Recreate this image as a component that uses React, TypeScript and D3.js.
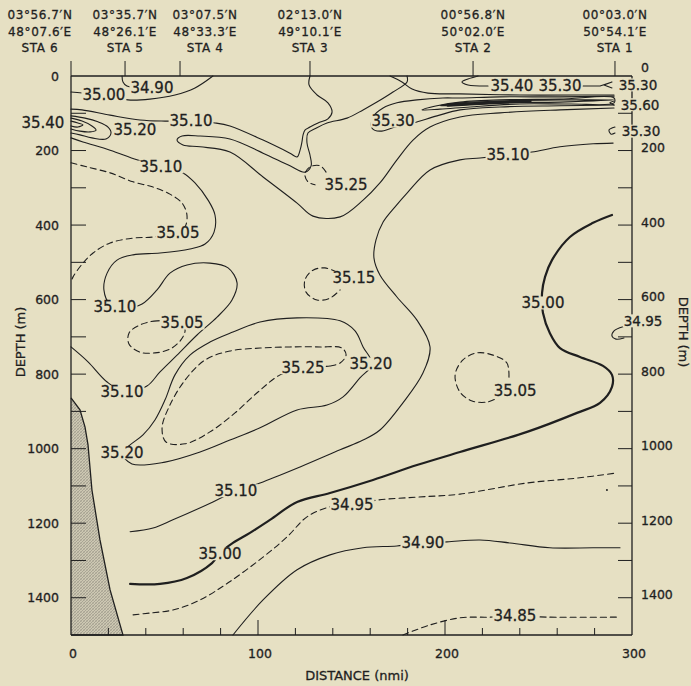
import React from "react";
import * as d3 from "d3";

type P = [number, number]; // [distance nmi, depth m]

// ---------- stations ----------
const stationDist = [0, 28.9, 58.3, 127.8, 215.0, 290.9];
const stationLabelDist = [-16.6, 28.9, 71.7, 127.8, 215.0, 290.9];
const stationLat = ["03°56.7′N", "03°35.7′N", "03°07.5′N", "02°13.0′N", "00°56.8′N", "00°03.0′N"];
const stationLon = ["48°07.6′E", "48°26.1′E", "48°33.3′E", "49°10.1′E", "50°02.0′E", "50°54.1′E"];
const stationName = ["STA 6", "STA 5", "STA 4", "STA 3", "STA 2", "STA 1"];

// ---------- ticks ----------
const depthTickMinor = [100, 200, 300, 400, 500, 600, 700, 800, 900, 1000, 1100, 1200, 1300, 1400];
const depthTickLabels = [0, 200, 400, 600, 800, 1000, 1200, 1400];
const distTickMinor = [20, 40, 60, 80, 120, 140, 160, 180, 220, 240, 260, 280];
const distTickMajor = [100, 200];
const distTickLabels = [0, 100, 200, 300];

// ---------- bottom topography ----------
const seamount: P[] = [[0, 864], [4.8, 896], [7.5, 942], [9.1, 990], [11.2, 1111], [15.5, 1245], [20.9, 1379], [27.8, 1500], [0, 1500]];

// ---------- isohalines ----------
const c3500Top: P[] = [[0, 43], [10.2, 48], [17.6, 54], [26.2, 59], [30.5, 64], [42.2, 62], [55.6, 51], [66.3, 32], [75.9, 0]];
const c3490Hook: P[] = [[27.3, 0], [27.8, 16], [29.9, 27], [33.2, 30]];
const c3510Upper: P[] = [[0, 89], [5.9, 91], [20.9, 105], [36.9, 118], [50.3, 121], [64.2, 121], [77.0, 126], [85.0, 134], [102.7, 172], [117.1, 207], [120.9, 217], [122.5, 199], [123.5, 177], [124.1, 158], [125.1, 145], [127.8, 137], [132.1, 126], [137.4, 115], [139.6, 97], [137.4, 72], [131.6, 51], [127.3, 24], [127.8, 0]];
const c3520Main: P[] = [[179.7, 0], [179.7, 16], [172.2, 43], [163.6, 70], [156.2, 91], [147.6, 113], [136.9, 126], [131.0, 140], [126.7, 153], [126.2, 180], [127.8, 212], [128.4, 241], [125.1, 258], [117.1, 241], [102.7, 207], [85.0, 169], [69.0, 161], [59.4, 161], [56.7, 172], [59.9, 185], [69.0, 190], [85.0, 204], [102.7, 271], [120.9, 341], [129.4, 376], [143.9, 378], [156.2, 333], [165.2, 287], [174.3, 225], [182.9, 172], [192.0, 137], [208.0, 110], [229.4, 99], [261.5, 91], [290.4, 86]];
const c3530Tongue: P[] = [[290.4, 54], [261.5, 56], [229.4, 56], [208.0, 59], [198.9, 59], [185.0, 64], [174.3, 72], [166.9, 86], [161.5, 110], [161.0, 140], [165.2, 148], [173.3, 137], [182.9, 126], [195.7, 107], [208.0, 91], [229.4, 83], [261.5, 80], [290.4, 78]];
const cTopLine: P[] = [[170.6, 0], [177.0, 16], [182.4, 35], [190.9, 46], [208.0, 48], [240.1, 51], [272.2, 51], [290.4, 51]];
const cLensOuter: P[] = [[187.7, 91], [195.7, 80], [208.0, 70], [229.4, 64], [261.5, 62], [290.4, 59], [290.4, 72], [266.8, 75], [240.1, 75], [213.4, 83], [197.3, 89]];
const cLensInner: P[] = [[197.3, 80], [208.0, 72], [229.4, 67], [261.5, 64], [290.4, 64], [261.5, 70], [229.4, 72], [208.0, 78]];
const cLensCore: P[] = [[201.6, 78], [213.4, 75], [232.1, 70], [245.5, 67]];
const c3540Hook: P[] = [[217.7, 0], [212.3, 8], [209.1, 16], [212.3, 24], [223.0, 27]];
const c3530TopHook: P[] = [[273.8, 27], [282.9, 27], [289.3, 16], [285.0, 24], [289.3, 32]];
const c3560Hook: P[] = [[290.4, 67], [288.2, 72], [290.4, 78]];
const c3530RightHook: P[] = [[290.9, 137], [287.7, 145], [288.8, 156], [290.9, 153]];
const cLeftTongueOuter: P[] = [[0, 107], [7.5, 113], [14.4, 123], [19.8, 137], [21.4, 153], [18.7, 169], [11.2, 166], [4.8, 158], [0, 153]];
const cLeftTongueMid: P[] = [[0, 113], [5.9, 121], [11.2, 134], [13.4, 145], [10.2, 150], [4.8, 148], [0, 142]];
const cLeftTongueInner: P[] = [[0, 121], [3.7, 126], [6.4, 131], [3.7, 137], [0, 134]];
const c3510Big: P[] = [[31.6, 1223], [43.9, 1213], [54.5, 1191], [75.9, 1143], [88.2, 1113], [101.1, 1092], [122.5, 1049], [143.9, 1003], [156.2, 977], [165.2, 950], [177.5, 877], [188.2, 797], [192.0, 727], [185.0, 655], [174.3, 593], [165.2, 534], [162.0, 488], [163.1, 440], [166.9, 392], [173.3, 351], [179.7, 314], [192.0, 252], [208.0, 225], [218.7, 220], [233.7, 212], [246.5, 204], [261.5, 190], [279.2, 182], [289.9, 180]];
const c3510Wiggle: P[] = [[0, 166], [6.4, 177], [20.9, 199], [35.3, 225], [48.1, 244], [59.9, 260], [66.3, 287], [73.3, 333], [77.0, 373], [76.5, 419], [71.7, 451], [63.6, 464], [47.6, 475], [33.2, 480], [24.6, 494], [19.3, 529], [17.6, 574], [20.9, 612], [30.5, 622], [38.0, 612], [46.0, 574], [52.9, 529], [62.0, 507], [74.3, 502], [84.0, 515], [88.8, 555], [86.1, 601], [78.1, 647], [67.4, 695], [56.7, 749], [47.6, 794], [40.6, 832], [28.9, 848], [19.3, 821], [9.1, 767], [0, 727]];
const c3505Left: P[] = [[0, 233], [8.6, 244], [20.9, 260], [33.2, 284], [43.9, 298], [52.9, 317], [59.4, 341], [62.0, 373], [61.0, 405], [57.2, 421], [43.9, 432], [33.2, 435], [20.9, 448], [11.8, 475], [6.4, 502], [1.1, 539], [0, 553]];
const c3505Loop: P[] = [[58.3, 663], [46.0, 657], [36.9, 668], [31.0, 690], [31.0, 719], [36.9, 741], [44.9, 743], [52.9, 733], [58.8, 708], [61.0, 681]];
const c3520Loop: P[] = [[161.0, 773], [156.2, 727], [151.9, 684], [143.9, 657], [120.9, 649], [101.1, 660], [86.6, 687], [74.3, 714], [63.6, 749], [55.6, 802], [50.3, 869], [44.9, 923], [38.5, 963], [31.6, 990], [27.3, 1011], [32.6, 1041], [50.3, 1036], [69.0, 1009], [85.0, 977], [101.1, 944], [120.9, 896], [136.9, 883], [145.5, 861], [154.5, 810]];
const c3525Tongue: P[] = [[124.1, 783], [138.5, 778], [143.9, 770], [147.1, 749], [144.9, 730], [133.2, 727], [117.1, 727], [101.1, 730], [85.0, 738], [71.7, 762], [61.0, 816], [52.9, 883], [48.7, 944], [50.8, 982], [61.0, 987], [74.3, 955], [87.7, 904], [100.0, 848], [111.8, 802]];
const c3515Loop: P[] = [[142.3, 526], [135.8, 515], [129.4, 521], [125.1, 547], [125.7, 580], [131.6, 601], [138.5, 596], [143.9, 574]];
const c3525Small: P[] = [[136.4, 258], [133.2, 241], [127.8, 244], [125.1, 263], [126.7, 284], [130.5, 292]];
const c3505Right: P[] = [[234.2, 808], [233.1, 770], [225.7, 749], [217.1, 743], [209.6, 762], [205.4, 802], [208.0, 848], [214.5, 872], [222.5, 875], [226.8, 867]];
const c3500Bold: P[] = [[289.3, 373], [279.2, 394], [266.8, 432], [257.2, 494], [253.5, 539], [251.9, 582], [252.4, 636], [256.1, 690], [261.5, 730], [272.2, 754], [284.5, 778], [289.3, 802], [289.3, 834], [282.9, 877], [270.6, 904], [243.9, 955], [208.0, 1009], [185.0, 1044], [161.5, 1084], [138.5, 1119], [120.9, 1143], [106.4, 1191], [95.7, 1226], [86.6, 1253], [79.7, 1280], [75.4, 1307], [62.0, 1347], [47.6, 1363], [31.6, 1363]];
const c3495Deep: P[] = [[33.2, 1446], [42.2, 1441], [54.5, 1433], [69.0, 1406], [84.0, 1360], [102.7, 1291], [115.5, 1237], [126.2, 1183], [138.5, 1156], [150.3, 1151], [163.6, 1138], [185.0, 1130], [208.0, 1122], [243.9, 1092], [270.6, 1079], [292.0, 1065]];
const c3495RightHook: P[] = [[295.2, 673], [290.4, 684], [289.3, 698], [291.4, 706], [295.7, 703]];
const c3490Deep: P[] = [[86.6, 1500], [102.7, 1406], [120.9, 1325], [138.5, 1285], [156.2, 1266], [174.3, 1261], [188.2, 1253], [201.1, 1250], [218.7, 1245], [234.8, 1253], [256.1, 1266], [279.2, 1266], [293.6, 1266]];
const c3485Deep: P[] = [[177.5, 1500], [192.0, 1473], [208.0, 1454], [224.1, 1452], [237.4, 1449], [254.6, 1452], [293.6, 1452]];
const strayDot: P[] = [[286.6, 1111]];

// ---------- contour labels ----------
const labelText = ["35.00", "34.90", "35.10", "35.40", "35.20", "35.10", "35.05", "35.10", "35.05", "35.10", "35.20", "35.25", "35.20", "35.15", "35.25", "35.30", "35.40", "35.30", "35.30", "35.60", "35.30", "35.10", "35.00", "34.95", "35.05", "35.10", "35.00", "34.95", "34.90", "34.85"];
const labelDist = [17.6, 43.3, 64.2, -15.0, 34.2, 48.1, 57.2, 23.5, 59.4, 27.3, 27.3, 124.1, 160.4, 151.3, 147.1, 172.2, 235.8, 261.5, 303.2, 304.3, 304.8, 233.7, 252.4, 305.9, 237.5, 88.2, 79.7, 150.3, 188.2, 237.4];
const labelDepth = [51, 30, 121, 126, 145, 244, 421, 620, 663, 848, 1011, 783, 773, 542, 292, 121, 27, 27, 24, 77, 148, 212, 609, 657, 845, 1113, 1282, 1151, 1253, 1449];

const BG = "#e6e0c3";
const INK = "#1f1f1f";
const FONT = "'DejaVu Sans', Verdana, sans-serif";

export default function App() {
  const x = d3.scaleLinear().domain([0, 300]).range([71, 632]);
  const y = d3.scaleLinear().domain([0, 1500]).range([76, 635]);

  const smooth = d3.line<P>().x((p) => x(p[0])).y((p) => y(p[1])).curve(d3.curveCatmullRom.alpha(0.5));
  const smoothClosed = d3.line<P>().x((p) => x(p[0])).y((p) => y(p[1])).curve(d3.curveCatmullRomClosed.alpha(0.5));
  const sharp = d3.line<P>().x((p) => x(p[0])).y((p) => y(p[1])).curve(d3.curveLinear);

  type Kind = "solid" | "bold" | "dash" | "core";
  const contours: { pts: P[]; kind: Kind; closed?: boolean; sharp?: boolean }[] = [
    { pts: c3500Top, kind: "solid" },
    { pts: c3490Hook, kind: "solid" },
    { pts: c3510Upper, kind: "solid" },
    { pts: c3520Main, kind: "solid" },
    { pts: c3530Tongue, kind: "solid" },
    { pts: cTopLine, kind: "solid" },
    { pts: cLensOuter, kind: "solid", closed: true },
    { pts: cLensInner, kind: "solid", closed: true },
    { pts: cLensCore, kind: "core" },
    { pts: c3540Hook, kind: "solid" },
    { pts: c3530TopHook, kind: "solid", sharp: true },
    { pts: c3560Hook, kind: "solid" },
    { pts: c3530RightHook, kind: "solid" },
    { pts: cLeftTongueOuter, kind: "solid" },
    { pts: cLeftTongueMid, kind: "solid" },
    { pts: cLeftTongueInner, kind: "solid" },
    { pts: c3510Big, kind: "solid" },
    { pts: c3510Wiggle, kind: "solid" },
    { pts: c3505Left, kind: "dash" },
    { pts: c3505Loop, kind: "dash", closed: true },
    { pts: c3520Loop, kind: "solid", closed: true },
    { pts: c3525Tongue, kind: "dash", closed: true },
    { pts: c3515Loop, kind: "dash" },
    { pts: c3525Small, kind: "dash" },
    { pts: c3505Right, kind: "dash" },
    { pts: c3500Bold, kind: "bold" },
    { pts: c3495Deep, kind: "dash" },
    { pts: c3495RightHook, kind: "solid" },
    { pts: c3490Deep, kind: "solid" },
    { pts: c3485Deep, kind: "dash" },
  ];

  const textWidth = (s: string, fs: number) =>
    s.split("").reduce((w, ch) => w + (ch === "." ? 0.318 : 0.636), 0) * fs;

  const X0 = x(0), X1 = x(300), Y0 = y(0), Y1 = y(1500);
  const textStroke = { stroke: INK, strokeWidth: 0.3 };

  return (
    <svg width={691} height={686} style={{ position: "absolute", left: 0, top: 0, display: "block" }} fontFamily={FONT}>
      <defs>
        <pattern id="hatch" patternUnits="userSpaceOnUse" width={3} height={3}>
          <rect width={3} height={3} fill="#cdc8b2" />
          <path d="M0,3 L3,0" stroke="#8f8b7e" strokeWidth={0.6} />
          <path d="M0,0 L3,3" stroke="#a9a596" strokeWidth={0.5} />
        </pattern>
      </defs>
      <rect width={691} height={686} fill={BG} />

      {/* station headers */}
      {stationName.map((nm, i) => (
        <g key={nm} fill={INK} fontSize={12} textAnchor="middle" letterSpacing={0.6} {...textStroke}>
          <text x={x(stationLabelDist[i])} y={19}>{stationLat[i]}</text>
          <text x={x(stationLabelDist[i])} y={36}>{stationLon[i]}</text>
          <text x={x(stationLabelDist[i])} y={52}>{nm}</text>
        </g>
      ))}
      {stationDist.map((d, i) => (
        <line key={"st" + i} x1={x(d)} x2={x(d)} y1={Y0} y2={Y0 - 15} stroke={INK} strokeWidth={1} />
      ))}

      {/* contours */}
      {contours.map((c, i) => {
        const gen = c.sharp ? sharp : c.closed ? smoothClosed : smooth;
        const sw = c.kind === "bold" ? 2.2 : c.kind === "core" ? 3.2 : 1.1;
        return (
          <path
            key={"c" + i}
            d={gen(c.pts) || ""}
            fill="none"
            stroke={INK}
            strokeWidth={sw}
            strokeDasharray={c.kind === "dash" ? "6,4" : undefined}
            strokeLinecap="round"
            strokeLinejoin="round"
          />
        );
      })}
      {strayDot.map((p, i) => (
        <circle key={"dot" + i} cx={x(p[0])} cy={y(p[1])} r={1} fill={INK} />
      ))}

      {/* sea floor */}
      <path d={sharp(seamount) || ""} fill="url(#hatch)" stroke={INK} strokeWidth={1.3} />

      {/* frame */}
      <line x1={X0} x2={X1} y1={Y0} y2={Y0} stroke={INK} strokeWidth={1.3} />
      <line x1={X0} x2={X1} y1={Y1} y2={Y1} stroke={INK} strokeWidth={1.3} />
      <line x1={X0} x2={X0} y1={Y0} y2={Y1} stroke={INK} strokeWidth={1.3} />
      <line x1={X1} x2={X1} y1={Y0} y2={Y1} stroke={INK} strokeWidth={1.3} />

      {/* depth ticks */}
      {depthTickMinor.map((t) => (
        <g key={"dt" + t} stroke={INK} strokeWidth={1}>
          <line x1={X0} x2={X0 + 15} y1={y(t)} y2={y(t)} />
          <line x1={X1 - 14} x2={X1} y1={y(t)} y2={y(t)} />
        </g>
      ))}
      {distTickMinor.map((t) => (
        <line key={"xt" + t} x1={x(t)} x2={x(t)} y1={Y1} y2={Y1 - 7} stroke={INK} strokeWidth={1} />
      ))}
      {distTickMajor.map((t) => (
        <line key={"xm" + t} x1={x(t)} x2={x(t)} y1={Y1} y2={Y1 - 15} stroke={INK} strokeWidth={1} />
      ))}

      {/* contour labels with paper-coloured masks */}
      {labelText.map((s, i) => {
        const outside = labelDist[i] > 300;
        const fs = outside ? 13.5 : 15;
        const cx = x(labelDist[i]);
        const cy = y(labelDepth[i]);
        const w = textWidth(s, fs) + 2;
        return (
          <g key={"lb" + i}>
            <rect x={cx - w / 2} y={cy - 6.5} width={w} height={13} fill={BG} />
            <text x={cx} y={cy} dy="0.36em" textAnchor="middle" fontSize={fs} fill={INK} {...textStroke}>
              {s}
            </text>
          </g>
        );
      })}

      {/* depth labels */}
      {depthTickLabels.map((t) => (
        <g key={"dl" + t} fill={INK} fontSize={12.5} {...textStroke}>
          <text x={X0 - 12} y={y(t)} dy="0.36em" textAnchor="end">{t}</text>
          <text x={X1 + 9} y={y(t) - (t === 0 ? 9 : 3)} dy="0.36em" textAnchor="start">{t}</text>
        </g>
      ))}
      {distTickLabels.map((t) => (
        <text key={"xl" + t} x={x(t) + 2} y={658} textAnchor="middle" fontSize={12.5} fill={INK} {...textStroke}>{t}</text>
      ))}

      <text x={357} y={680} textAnchor="middle" fontSize={13} fill={INK} {...textStroke}>DISTANCE (nmi)</text>
      <text transform="translate(25,342) rotate(-90)" textAnchor="middle" fontSize={13} fill={INK} {...textStroke}>DEPTH (m)</text>
      <text transform="translate(679,332) rotate(90)" textAnchor="middle" fontSize={13} fill={INK} {...textStroke}>DEPTH (m)</text>
    </svg>
  );
}
